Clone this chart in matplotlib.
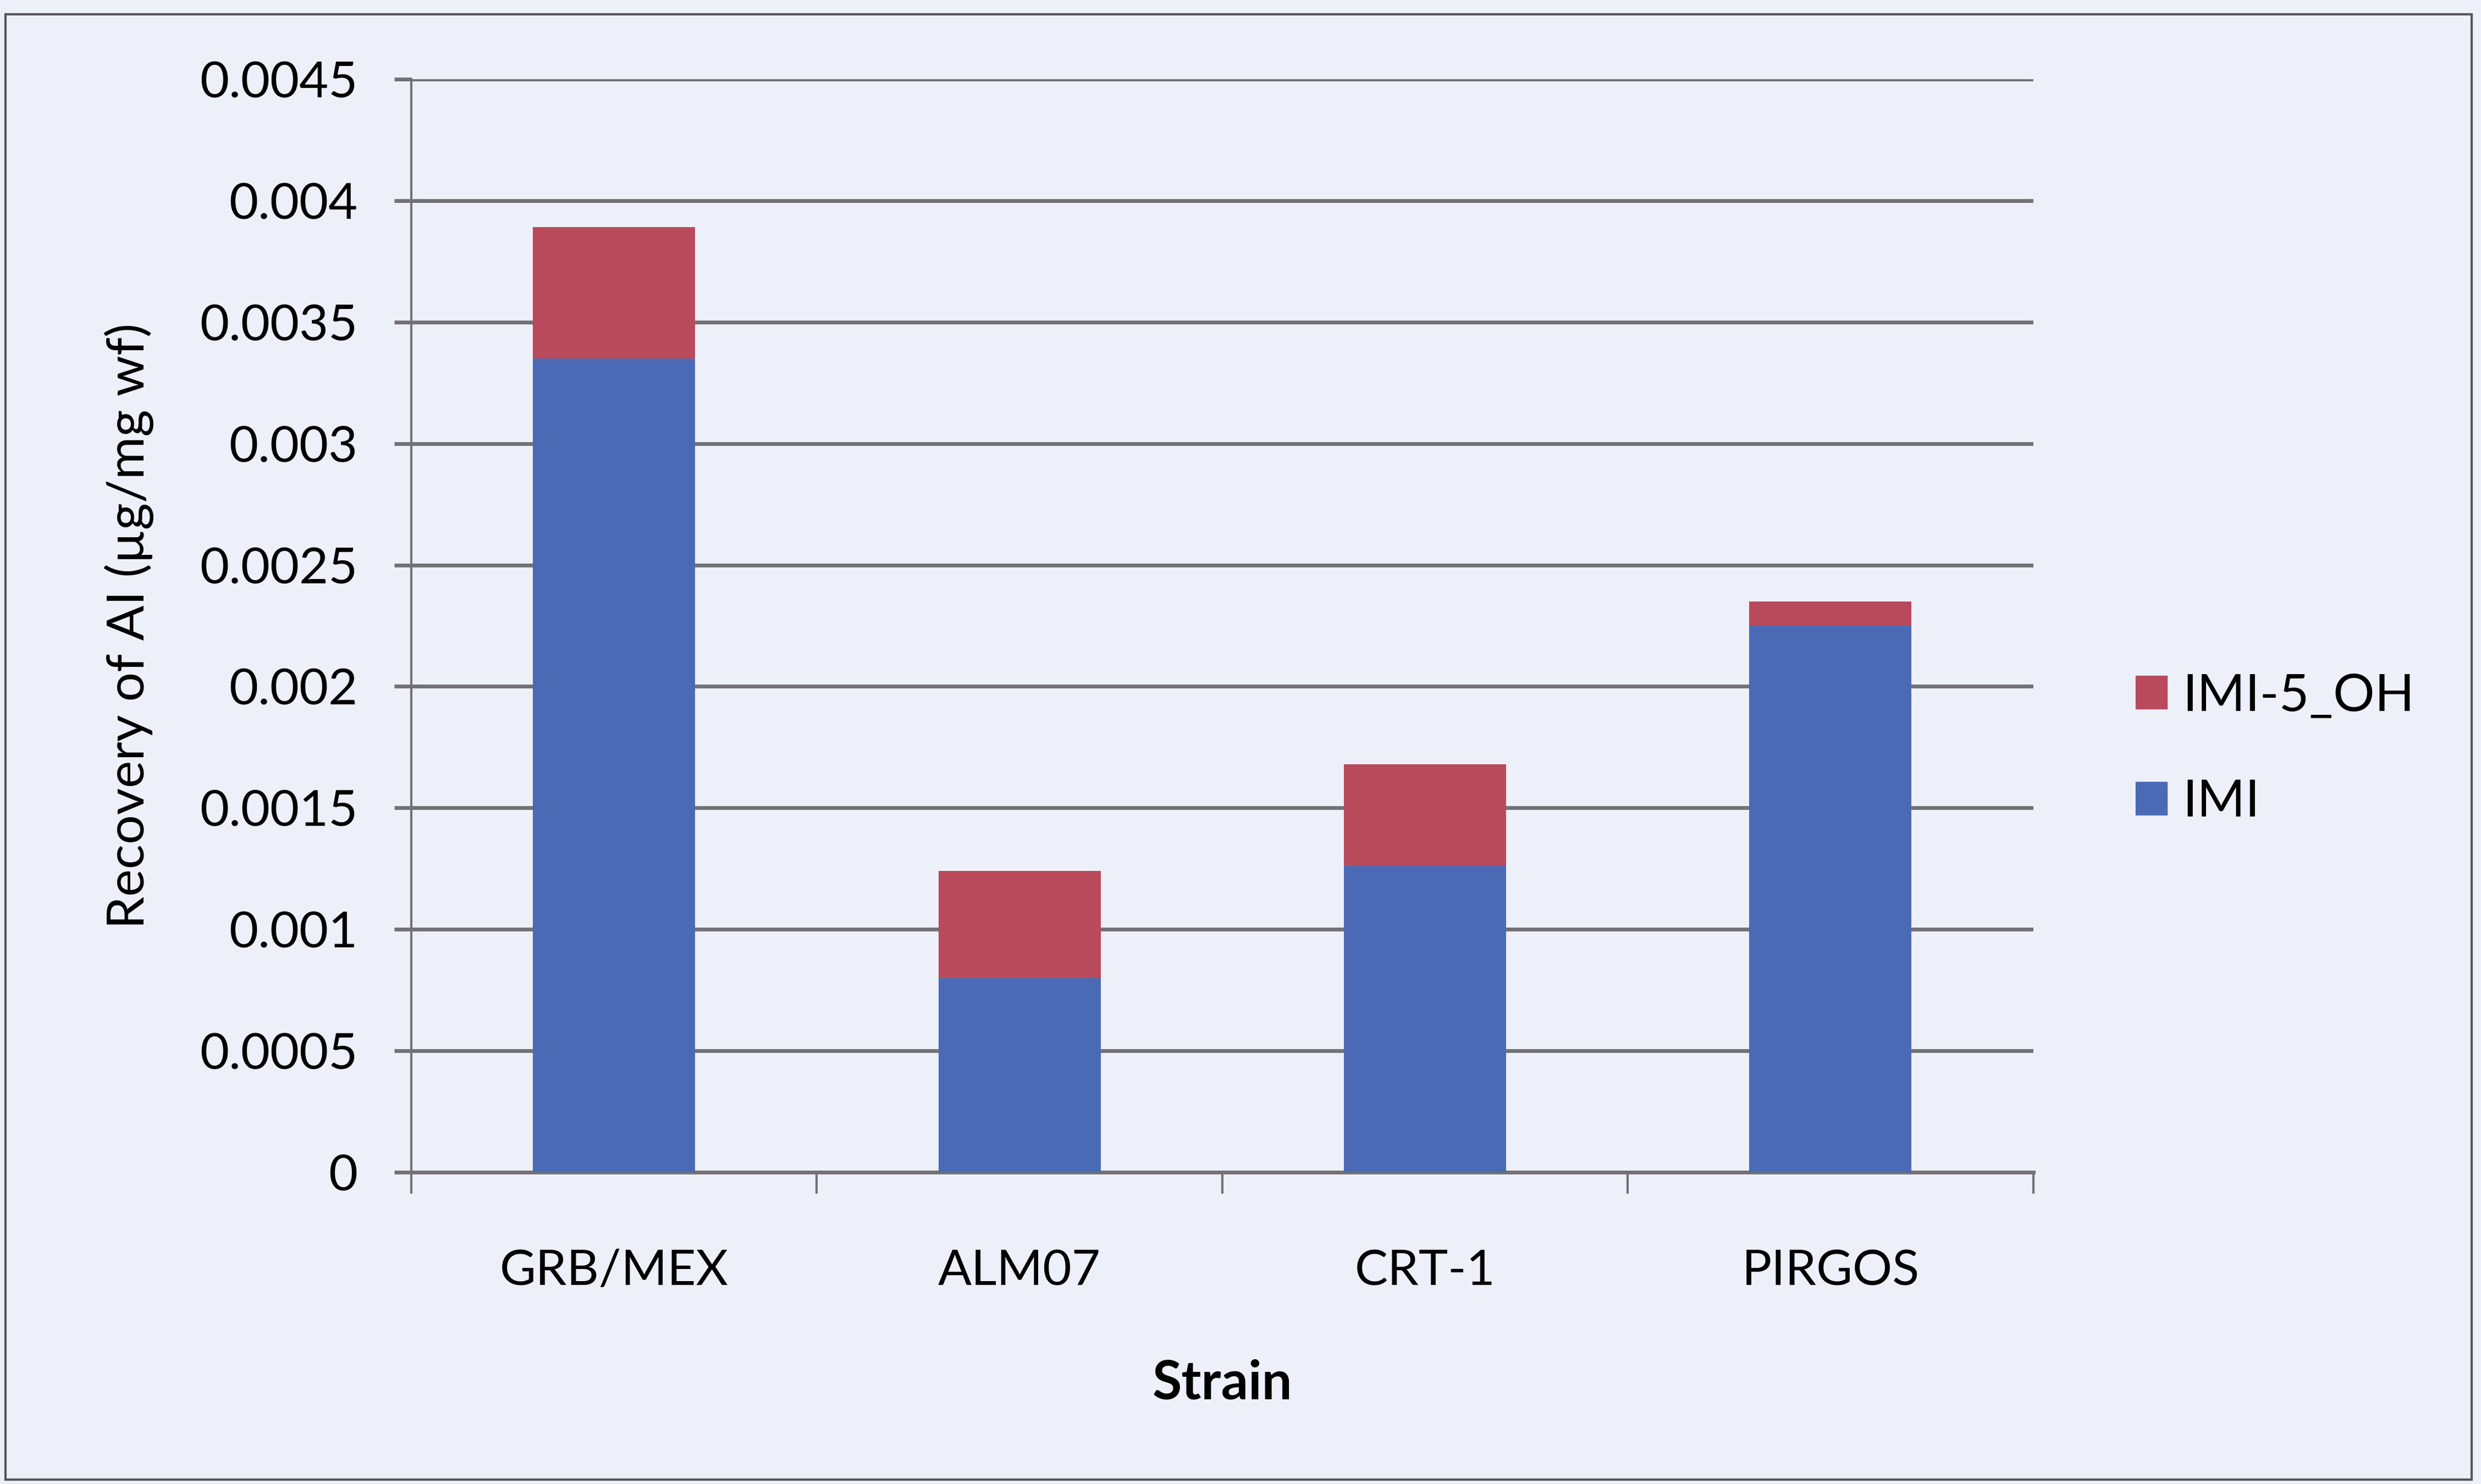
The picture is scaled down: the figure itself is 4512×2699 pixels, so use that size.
import numpy as np
import matplotlib.pyplot as plt
from matplotlib.patches import Rectangle, Patch

# recovery of active ingredient per strain (ug/mg wf)
strains = ['GRB/MEX', 'ALM07', 'CRT-1', 'PIRGOS']
imi = [0.00335, 0.0008, 0.00126, 0.00225]
imi_5oh = [0.00054, 0.00044, 0.00042, 0.0001]

yticks = [0, 0.0005, 0.001, 0.0015, 0.002, 0.0025, 0.003, 0.0035, 0.004, 0.0045]

blue = '#4a6ab6'
red = '#b84a5c'
bg = '#eef0f9'
grid_col = '#727276'

plt.rcParams['font.family'] = ['Lato', 'DejaVu Sans']

fig = plt.figure(figsize=(45.12, 26.99), dpi=100, facecolor=bg)
ax = fig.add_axes([0.1658, 0.21, 0.6537, 0.7367])
ax.set_facecolor(bg)

x = np.arange(len(strains))
ax.bar(x, imi, width=0.4, color=blue, label='IMI', zorder=3)
ax.bar(x, imi_5oh, width=0.4, bottom=imi, color=red, label='IMI-5_OH', zorder=3)

ax.set_xlim(-0.5, len(strains) - 0.5)
ax.set_ylim(0, 0.0045)
ax.set_yticks(yticks)
ax.set_yticklabels(['{:g}'.format(v) for v in yticks])
ax.yaxis.grid(True, color=grid_col, linewidth=5, zorder=1)
ax.set_axisbelow(True)

# category boundaries get the tick marks, names sit in between
ax.set_xticks(x)
ax.set_xticklabels(strains)
ax.set_xticks(np.arange(-0.5, len(strains)), minor=True)
ax.tick_params(axis='x', which='major', length=0, pad=100, labelsize=65)
ax.tick_params(axis='x', which='minor', length=28, width=3, color=grid_col)
ax.tick_params(axis='y', length=22, width=5, color=grid_col, pad=48, labelsize=66)

for s in ['top', 'right']:
    ax.spines[s].set_visible(False)
ax.spines['left'].set_color(grid_col)
ax.spines['left'].set_linewidth(3)
ax.spines['bottom'].set_color(grid_col)
ax.spines['bottom'].set_linewidth(5)

ax.set_ylabel('Recovery of AI (µg/mg wf)', fontsize=68, labelpad=60)
ax.set_xlabel('Strain', fontsize=70, fontweight='bold', labelpad=85)

handles = [Patch(color=red, label='IMI-5_OH'), Patch(color=blue, label='IMI')]
fig.legend(handles=handles, loc='center left', bbox_to_anchor=(0.842, 0.495),
           frameon=False, fontsize=68, handlelength=0.6, handleheight=0.6,
           handletextpad=0.3, labelspacing=1.15)

# outer chart frame
fig.patches.append(Rectangle((0.0022, 0.003), 0.994, 0.9874, transform=fig.transFigure,
                             fill=False, edgecolor='#55555a', linewidth=3))

fig.savefig('out.png', dpi=100, facecolor=bg)
